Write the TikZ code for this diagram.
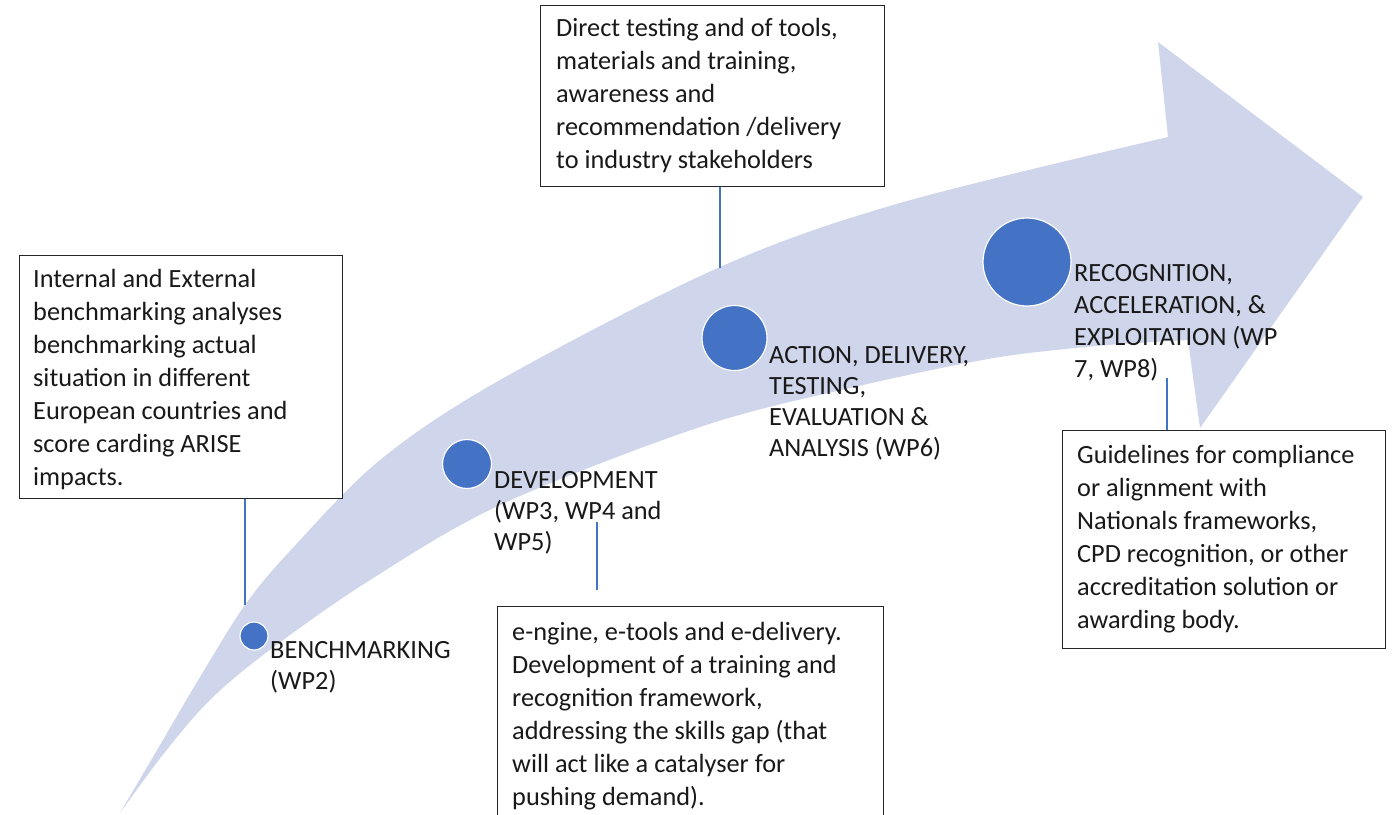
\documentclass[tikz,border=0pt]{standalone}
\usepackage{fontspec}
\setmainfont{Carlito}
\definecolor{bandc}{RGB}{207,213,234}
\definecolor{dotc}{RGB}{68,114,196}
\definecolor{linec}{RGB}{68,114,196}
\begin{document}
\begin{tikzpicture}[x=1pt,y=-1pt,
  boxst/.style={draw=black!85, line width=1.2pt, fill=white, inner sep=0pt, anchor=north west},
  txt/.style={align=left, inner sep=0pt, anchor=base west, text=black!90,
     font=\fontsize{26.3}{33}\selectfont},
  lbl/.style={txt, font=\fontsize{26.3}{31}\selectfont},
  dot/.style={circle, fill=dotc, draw=white, line width=1.2pt, inner sep=0pt},
  conn/.style={draw=linec, line width=1.2pt}]
\useasboundingbox (0,0) rectangle (1394,814);
\clip (0,0) rectangle (1394,814);
% arrow band
\fill[bandc] plot[smooth, tension=0.55] coordinates {(120,813) (160,745) (200,677) (245,605) (290,551) (380,460) (500,380) (720,267) (900,203) (1168,137)}
  -- (1158,42) -- (1363,197) -- (1200,428) -- (1188,340)
  -- plot[smooth, tension=0.55] coordinates {(1120,344) (1000,357) (850,388) (700,427) (500,505) (367,582) (267,652) (210,700) (165,752) (120,813)} -- cycle;
% boxes
\node[boxst, minimum width=323, minimum height=243] (b1) at (19,255) {};
\node[boxst, minimum width=344, minimum height=181] (b2) at (540,5) {};
\node[boxst, minimum width=386, minimum height=240] (b3) at (497,606) {};
\node[boxst, minimum width=323, minimum height=218] (b4) at (1062,430) {};
% box texts (anchor = baseline of last line)
\node[txt] (t1) at (33,485) {Internal and External\\benchmarking analyses\\benchmarking actual\\situation in different\\European countries and\\score carding ARISE\\impacts.};
\node[txt] (t2) at (556,168) {Direct testing and of tools,\\materials and training,\\awareness and\\recommendation /delivery\\to industry stakeholders};
\node[txt] (t3) at (512,805) {e-ngine, e-tools and e-delivery.\\Development of a training and\\recognition framework,\\addressing the skills gap (that\\will act like a catalyser for\\pushing demand).};
\node[txt] (t4) at (1077,628) {Guidelines for compliance\\or alignment with\\Nationals frameworks,\\CPD recognition, or other\\accreditation solution or\\awarding body.};
% dots
\node[dot, minimum size=28] (d1) at (254,636) {};
\node[dot, minimum size=49] (d2) at (467,464) {};
\node[dot, minimum size=65] (d3) at (734.5,338) {};
\node[dot, minimum size=88] (d4) at (1027,262) {};
% labels
\node[lbl] (l1) at (270,689) {BENCHMARKING\\(WP2)};
\node[lbl] (l2) at (494,550) {DEVELOPMENT\\(WP3, WP4 and\\WP5)};
\node[lbl] (l3) at (769,456) {ACTION, DELIVERY,\\TESTING,\\EVALUATION \&\\ANALYSIS (WP6)};
\node[lbl, font=\fontsize{26.3}{32}\selectfont] (l4) at (1074,377) {RECOGNITION,\\ACCELERATION, \&\\EXPLOITATION (WP\\7, WP8)};
% connectors
\coordinate (c1) at (245,605);
\coordinate (c2) at (720,268);
\coordinate (c3a) at (597,522);
\coordinate (c3b) at (597,590);
\coordinate (c4) at (1167,378);
\draw[conn] (b1.south -| c1) -- (c1);
\draw[conn] (b2.south -| c2) -- (c2);
\draw[conn] (c3a) -- (c3b);
\draw[conn] (c4) -- (b4.north -| c4);
\end{tikzpicture}
\end{document}
